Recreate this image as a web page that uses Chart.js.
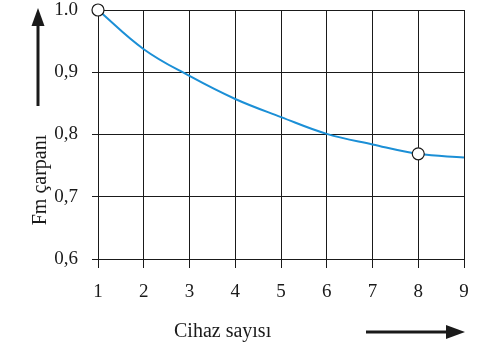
<!DOCTYPE html>
<html>
<head>
<meta charset="utf-8">
<script src="https://cdn.jsdelivr.net/npm/chart.js@4"></script>
<style>
  html, body { margin: 0; padding: 0; background: #fff; }
  #wrap { width: 481px; height: 345px; }
</style>
</head>
<body>
<div id="wrap"><canvas id="c" width="481" height="345"></canvas></div>
<script>
// Number of devices and the corresponding Fm factor
const deviceCounts = [1, 2, 3, 4, 5, 6, 7, 8, 9];
const fmFactor = [1.0, 0.937, 0.894, 0.857, 0.828, 0.801, 0.784, 0.769, 0.763];
// Devices that are marked with an open circle on the curve
const markedDevices = [1, 8];
// Y tick labels (0.6 .. 1.0)
const yTickLabels = ['0,6', '0,7', '0,8', '0,9', '1.0'];
const xTitle = 'Cihaz sayısı';
const yTitle = 'Fm çarpanı';

const FONT = '"Liberation Serif", "Times New Roman", serif';
const INK = '#1a1a1a';
Chart.defaults.font.family = FONT;

const points = deviceCounts.map((x, i) => ({ x: x, y: fmFactor[i] }));
const radii = deviceCounts.map(x => markedDevices.includes(x) ? 6 : 0);

// Axis titles and direction arrows
const annotations = {
  id: 'annotations',
  afterDraw(chart) {
    const ctx = chart.ctx;
    ctx.save();
    ctx.fillStyle = INK;
    ctx.strokeStyle = INK;
    ctx.font = '20px ' + FONT;

    // x axis title
    ctx.textAlign = 'left';
    ctx.textBaseline = 'alphabetic';
    ctx.fillText(xTitle, 174, 337);

    // y axis title (rotated)
    ctx.save();
    ctx.translate(46, 180);
    ctx.rotate(-Math.PI / 2);
    ctx.textAlign = 'center';
    ctx.textBaseline = 'alphabetic';
    ctx.fillText(yTitle, 0, 0);
    ctx.restore();

    // vertical arrow (up)
    ctx.lineWidth = 3;
    ctx.beginPath();
    ctx.moveTo(38, 106);
    ctx.lineTo(38, 24);
    ctx.stroke();
    ctx.beginPath();
    ctx.moveTo(38, 8);
    ctx.lineTo(31.5, 26);
    ctx.lineTo(44.5, 26);
    ctx.closePath();
    ctx.fill();

    // horizontal arrow (right)
    ctx.beginPath();
    ctx.moveTo(366, 332);
    ctx.lineTo(448, 332);
    ctx.stroke();
    ctx.beginPath();
    ctx.moveTo(465, 332);
    ctx.lineTo(446, 325);
    ctx.lineTo(446, 339);
    ctx.closePath();
    ctx.fill();

    ctx.restore();
  }
};

new Chart(document.getElementById('c'), {
  type: 'line',
  data: {
    datasets: [{
      data: points,
      borderColor: '#1b8fd6',
      borderWidth: 2,
      tension: 0.4,
      pointRadius: radii,
      pointHoverRadius: radii,
      pointBackgroundColor: '#ffffff',
      pointBorderColor: INK,
      pointBorderWidth: 1.2,
      clip: false
    }]
  },
  options: {
    responsive: false,
    animation: false,
    events: [],
    layout: { padding: { left: 0, right: 17, top: 10, bottom: 0 } },
    plugins: { legend: { display: false }, tooltip: { enabled: false } },
    scales: {
      x: {
        type: 'linear',
        min: 1, max: 9,
        afterFit(scale) {
          scale.height = 86;
          scale.paddingLeft = 0;
          scale.paddingRight = 0;
        },
        ticks: {
          stepSize: 1,
          color: INK,
          padding: 13,
          font: { family: FONT, size: 19 }
        },
        grid: { color: INK, lineWidth: 1, tickLength: 9 },
        border: { color: INK, width: 1 }
      },
      y: {
        min: 0.6, max: 1.0,
        afterFit(scale) {
          scale.width = 98;
          scale.paddingTop = 0;
          scale.paddingBottom = 0;
        },
        afterBuildTicks(scale) {
          scale.ticks = [0.6, 0.7, 0.8, 0.9, 1.0].map(v => ({ value: v }));
        },
        ticks: {
          color: INK,
          padding: 14,
          font: { family: FONT, size: 19 },
          callback: (v, i) => yTickLabels[i]
        },
        grid: { color: INK, lineWidth: 1, tickLength: 6 },
        border: { color: INK, width: 1 }
      }
    }
  },
  plugins: [annotations]
});
</script>
</body>
</html>
